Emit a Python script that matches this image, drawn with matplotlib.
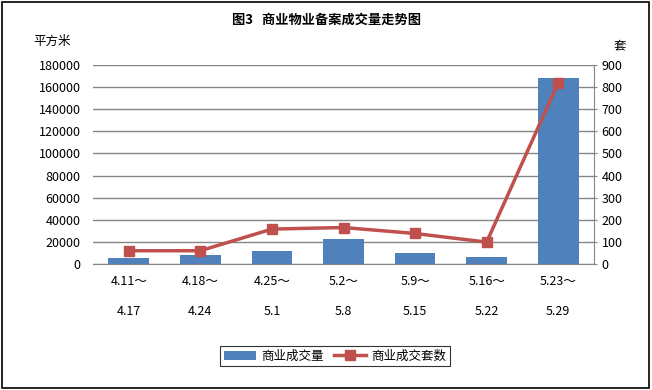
import matplotlib.pyplot as plt
import numpy as np

plt.rcParams['font.family'] = ['Noto Sans CJK SC', 'DejaVu Sans']

weeks = ["4.11～\n\n4.17", "4.18～\n\n4.24", "4.25～\n\n5.1", "5.2～\n\n5.8",
         "5.9～\n\n5.15", "5.16～\n\n5.22", "5.23～\n\n5.29"]
area = [5500, 8000, 11500, 22500, 10000, 6000, 168000]   # 平方米
units = [60, 60, 158, 165, 138, 99, 820]                  # 套

blue = '#4F81BD'
red = '#C0504D'
grey = '#868686'

fig = plt.figure(figsize=(6.52, 3.9), dpi=100)
ax = fig.add_axes([93 / 652, 126 / 390, 501 / 652, 199 / 390])
ax2 = ax.twinx()

x = np.arange(len(weeks))
bars = ax.bar(x, area, width=0.57, color=blue, zorder=2, label='商业成交量')
line, = ax2.plot(x, units, color=red, lw=2.5, marker='s', ms=7.5, zorder=3,
                 label='商业成交套数')

ax.set_xlim(-0.5, len(weeks) - 0.5)
ax.set_ylim(0, 180000)
ax.set_yticks(np.arange(0, 180001, 20000))
ax2.set_ylim(0, 900)
ax2.set_yticks(np.arange(0, 901, 100))

ax.yaxis.grid(True, color=grey, lw=1, zorder=0)
ax.set_axisbelow(True)
ax.set_xticks(x)
ax.set_xticklabels(weeks, fontsize=9, linespacing=1.2)
ax.tick_params(axis='x', length=0, pad=8)
ax.tick_params(axis='y', length=0, pad=9, labelsize=9)
ax2.tick_params(axis='y', length=5, direction='inout', color=grey, pad=3, labelsize=9)

for s in ['top', 'left']:
    ax.spines[s].set_visible(False)
    ax2.spines[s].set_visible(False)
ax.spines['right'].set_visible(False)
ax2.spines['right'].set_color(grey)
ax.spines['bottom'].set_color(grey)
ax2.spines['bottom'].set_visible(False)

fig.text(327 / 652, 1 - 20 / 390, '图3   商业物业备案成交量走势图', ha='center', va='center',
         fontsize=9.5, fontweight='bold')
fig.text(52 / 652, 1 - 41 / 390, '平方米', ha='center', va='center', fontsize=9)
fig.text(620 / 652, 1 - 46 / 390, '套', ha='center', va='center', fontsize=9)

leg = fig.legend(handles=[bars, line], loc='center', bbox_to_anchor=(335 / 652, 1 - 356 / 390),
                 ncol=2, frameon=True, fancybox=False, fontsize=9, handlelength=2.6,
                 columnspacing=0.8, handletextpad=0.4, borderpad=0.3)
leg.get_frame().set_edgecolor('black')
leg.get_frame().set_linewidth(0.8)

fig.patches.append(plt.Rectangle((0.003, 0.004), 0.993, 0.992, transform=fig.transFigure,
                                 fill=False, edgecolor='black', lw=1.2))

fig.savefig('out.png', dpi=100)
